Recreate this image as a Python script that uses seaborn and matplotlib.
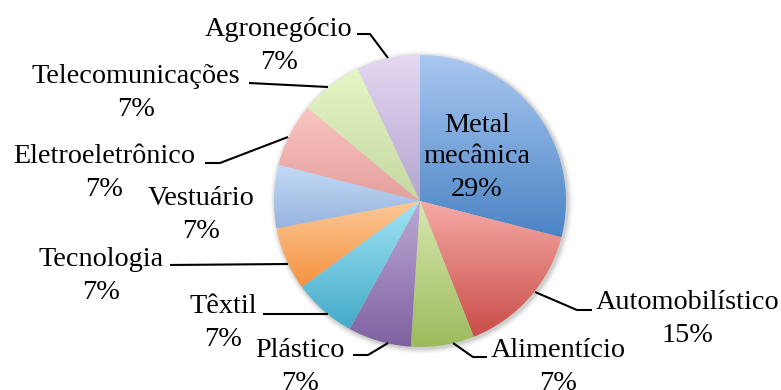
import numpy as np
import matplotlib
matplotlib.use("Agg")
import matplotlib.pyplot as plt
import seaborn as sns
from matplotlib.colors import LinearSegmentedColormap

# Sector shares (%), drawn clockwise from 12 o'clock
sectors = ["Metal\nmecânica", "Automobilístico", "Alimentício", "Plástico", "Têxtil",
           "Tecnologia", "Vestuário", "Eletroeletrônico", "Telecomunicações", "Agronegócio"]
shares = [29, 15, 7, 7, 7, 7, 7, 7, 7, 7]

# Per-slice vertical gradient: light at the top, deeper at the bottom
top_colors = ["#aac8f2", "#f5aaa6", "#d8e8b0", "#bcaad6", "#a2e4f4",
              "#fcc896", "#c4daf6", "#fac4c2", "#e6f6c6", "#e4d8f2"]
bottom_colors = ["#4a84c4", "#c94c47", "#9dbb5c", "#7f61a0", "#44aac8",
                 "#f59240", "#98b4de", "#e4a09c", "#c4d8a0", "#b4a4d0"]

# Label layout in pixel space (x centre, name baseline from top), leader polylines
label_pos = {
    "Metal\nmecânica": (477, 132),
    "Automobilístico": (688, 309),
    "Alimentício": (558, 357),
    "Plástico": (300, 357),
    "Têxtil": (223, 313),
    "Tecnologia": (101, 266),
    "Vestuário": (201, 205),
    "Eletroeletrônico": (104, 163),
    "Telecomunicações": (136, 83),
    "Agronegócio": (279, 36),
}
leaders = {
    "Agronegócio": [(357, 34), (370, 34), (388, 58)],
    "Telecomunicações": [(249, 83), (328, 87)],
    "Eletroeletrônico": [(205, 163), (220, 163), (288, 137)],
    "Tecnologia": [(170, 265), (288, 264)],
    "Têxtil": [(263, 314), (328, 314)],
    "Plástico": [(353, 355), (368, 355), (388, 343)],
    "Alimentício": [(453, 343), (473, 357), (487, 357)],
    "Automobilístico": [(535, 292), (577, 310), (592, 310)],
}

sns.set_theme(style="white")
plt.rcParams["font.family"] = ["Liberation Serif", "DejaVu Serif"]

W, H = 781, 390
fig = plt.figure(figsize=(W / 100, H / 100), dpi=100)
ax = fig.add_axes([0, 0, 1, 1])

cx, cy, r = 420, H - 201, 146

# soft drop shadow under the pie
for k, a in enumerate(np.linspace(0.05, 0.012, 6)):
    ax.add_patch(plt.Circle((cx + 1.5, cy - 1.5), r + 1 + k, color="black", alpha=a, lw=0, zorder=0))

wedges, _ = ax.pie(shares, startangle=90, counterclock=False, center=(cx, cy),
                   radius=r, frame=True, wedgeprops=dict(linewidth=0))

grad = np.linspace(0, 1, 256).reshape(-1, 1)
for w, c_top, c_bot in zip(wedges, top_colors, bottom_colors):
    w.set_facecolor("none")
    bb = w.get_path().get_extents()
    cmap = LinearSegmentedColormap.from_list("g", [c_bot, c_top])
    im = ax.imshow(grad, cmap=cmap, origin="lower", aspect="auto",
                   extent=(bb.x0, bb.x1, bb.y0, bb.y1), interpolation="bilinear", zorder=1)
    im.set_clip_path(w)

fs = 20.3
for name, val in zip(sectors, shares):
    x, yb = label_pos[name]
    nlines = name.count("\n") + 1
    for i, line in enumerate(name.split("\n")):
        ax.text(x, H - (yb + 31 * i), line, ha="center", va="baseline", fontsize=fs,
                color="black", zorder=5)
    ax.text(x, H - (yb + 31 * nlines + 2), f"{val}%", ha="center",
            va="baseline", fontsize=fs, color="black", zorder=5)

for name, pts in leaders.items():
    xs = [p[0] for p in pts]
    ys = [H - p[1] for p in pts]
    ax.plot(xs, ys, color="black", lw=1.5, zorder=4, solid_capstyle="butt")

ax.set_xlim(0, W)
ax.set_ylim(0, H)
ax.set_aspect("equal")
ax.axis("off")
fig.savefig("out.png", dpi=100)
